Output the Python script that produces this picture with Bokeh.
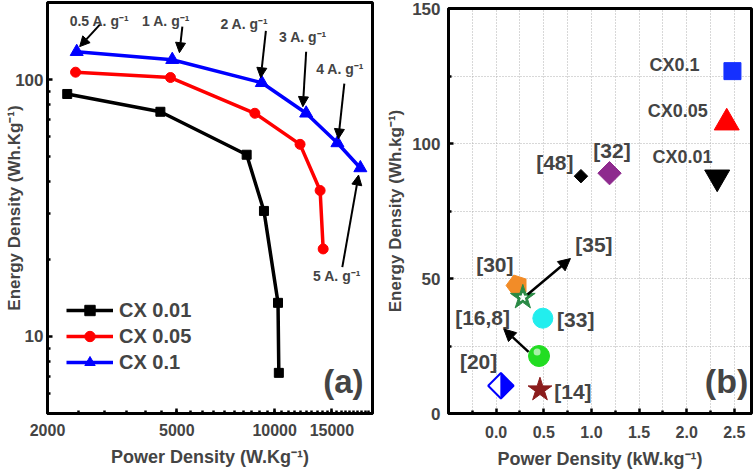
import math
from bokeh.plotting import figure
from bokeh.layouts import row
from bokeh.models import (FixedTicker, Label, Arrow, NormalHead, Legend, LegendItem,
                          Range1d, NumeralTickFormatter)
from bokeh.embed import file_html
from bokeh.resources import INLINE

FONT = "Liberation Sans"

# ---------------- Panel (a) data ----------------
cx001_power = [2300, 4450, 8200, 9270, 10240, 10300]
cx001_energy = [88, 75, 51, 30.8, 13.5, 7.2]
cx005_power = [2440, 4780, 8690, 11970, 13800, 14100]
cx005_energy = [107, 102, 74, 56, 37, 21.9]
cx01_power = [2460, 4840, 9130, 12500, 15600, 18350]
cx01_energy = [128.6, 119.7, 97.3, 74, 56.7, 45.3]
series_names = ["CX 0.01", "CX 0.05", "CX 0.1"]

current_labels = ["0.5 A. g⁻¹", "1 A. g⁻¹", "2 A. g⁻¹", "3 A. g⁻¹", "4 A. g⁻¹", "5 A. g⁻¹"]
current_label_x = [2340, 3909, 6810, 10310, 13420, 13130]
current_label_y = [170, 170, 165.5, 147, 110.4, 17.1]
arrow_start_x = [2898, 5200, 9397, 12500, 16380, 16150]
arrow_start_y = [164, 161, 155, 128.6, 96.5, 18.6]
arrow_end_x = [2512, 5093, 9060, 12210, 15700, 18120]
arrow_end_y = [134.6, 127.5, 101.8, 78.5, 58.8, 42.5]

x_major_a = [2000, 5000, 10000, 15000]
x_minor_a = list(range(2500, 20001, 500))
y_major_a = [10, 100]
y_minor_a = [5, 6, 7, 8, 9, 20, 30, 40, 50, 60, 70, 80, 90, 200]

# ---------------- Panel (b) data ----------------
ref_names = ["CX0.1", "CX0.05", "CX0.01", "[48]", "[32]", "[30]", "[35]", "[33]", "[16,8]", "[20]", "[14]"]
ref_power = [2.48, 2.42, 2.32, 0.89, 1.19, 0.22, 0.28, 0.49, 0.45, 0.05, 0.46]
ref_energy = [126.8, 107.7, 87.5, 87.9, 89.0, 47.4, 43.0, 35.3, 21.3, 10.3, 8.8]
ref_label_x = [1.61, 1.59, 1.64, 0.42, 1.02, -0.21, 0.83, 0.64, -0.43, -0.38, 0.61]
ref_label_y = [129, 112.1, 94.9, 93.0, 97.4, 55.1, 62.5, 34.9, 35.7, 19.1, 8.1]
x_major_b = [0.0, 0.5, 1.0, 1.5, 2.0, 2.5]
x_minor_b = [-0.25, 0.25, 0.75, 1.25, 1.75, 2.25]
y_major_b = [0, 50, 100, 150]
y_minor_b = [25, 75, 125]


def frame_style(p):
    p.outline_line_color = "black"
    p.outline_line_width = 3
    p.background_fill_color = "white"
    p.border_fill_color = "white"
    for ax in (p.xaxis[0], p.yaxis[0]):
        ax.axis_line_width = 3
        ax.axis_line_color = "black"
        ax.major_tick_in = 5
        ax.major_tick_out = 0
        ax.minor_tick_in = 3
        ax.minor_tick_out = 0
        ax.major_tick_line_width = 2.5
        ax.minor_tick_line_width = 2.5
        ax.major_label_text_font = FONT
        ax.major_label_text_font_style = "bold"
        ax.axis_label_text_font = FONT
        ax.axis_label_text_font_style = "bold"
        ax.axis_label_text_font_size = "18px"


# ================= Panel (a) =================
pa = figure(width=380, height=479, x_axis_type="log", y_axis_type="log",
            x_range=Range1d(2000, 20000), y_range=Range1d(5, 200),
            output_backend="svg", toolbar_location=None, title_location=None,
            min_border=0, min_border_left=47, min_border_right=8, min_border_top=0,
            min_border_bottom=60, margin=(-6, 0, 0, 0))
pa.xgrid.visible = False
pa.ygrid.visible = False
frame_style(pa)
pa.xaxis.ticker = FixedTicker(ticks=x_major_a, minor_ticks=x_minor_a)
pa.yaxis.ticker = FixedTicker(ticks=y_major_a, minor_ticks=y_minor_a)
pa.xaxis.formatter = NumeralTickFormatter(format="0")
pa.yaxis.formatter = NumeralTickFormatter(format="0")
pa.xaxis.major_label_text_font_size = "16px"
pa.yaxis.major_label_text_font_size = "17px"
pa.xaxis.major_label_standoff = 10
pa.yaxis.major_label_standoff = 4
pa.xaxis.axis_label = "Power Density (W.Kg⁻¹)"
pa.xaxis.axis_label_standoff = 8
pa.yaxis.axis_label = "Energy Density (Wh.Kg⁻¹)"
pa.yaxis.axis_label_text_font_size = "17px"
pa.yaxis.axis_label_standoff = -12

items = []
for xs, ys, color, marker, size, name in [
        (cx001_power, cx001_energy, "black", "square", 9, series_names[0]),
        (cx005_power, cx005_energy, "#ff0000", "circle", 10, series_names[1]),
        (cx01_power, cx01_energy, "#0000ff", "triangle", 13, series_names[2])]:
    ln = pa.line(xs, ys, line_color=color, line_width=3.5)
    sc = pa.scatter(xs, ys, marker=marker, size=size, fill_color=color, line_color=color)
    items.append(LegendItem(label=name, renderers=[ln, sc]))

legend = Legend(items=items, location=(19, 38), border_line_color=None,
                background_fill_alpha=0, padding=0, margin=0, spacing=0,
                glyph_width=47, glyph_height=26, label_height=26, label_standoff=6,
                label_text_font=FONT, label_text_font_style="bold",
                label_text_font_size="20px")
pa.add_layout(legend, "center")

for lx, ly, txt in zip(current_label_x, current_label_y, current_labels):
    pa.add_layout(Label(x=lx, y=ly, text=txt, text_font=FONT, text_font_style="bold",
                        text_font_size="14px", text_baseline="middle", text_align="left"))
for x0, y0, x1, y1 in zip(arrow_start_x, arrow_start_y, arrow_end_x, arrow_end_y):
    pa.add_layout(Arrow(x_start=x0, y_start=y0, x_end=x1, y_end=y1, line_width=2,
                        end=NormalHead(size=10, fill_color="black", line_color="black")))

pa.add_layout(Label(x=14100, y=6.67, text="(a)", text_font=FONT, text_font_style="bold",
                    text_font_size="33px", text_baseline="middle", text_align="left"))

# ================= Panel (b) =================
pb = figure(width=376, height=473, x_range=Range1d(-0.5, 2.68), y_range=Range1d(0, 150),
            output_backend="svg", toolbar_location=None, title_location=None,
            min_border=0, min_border_left=68, min_border_right=5, min_border_top=8,
            min_border_bottom=55)
frame_style(pb)
pb.xaxis.ticker = FixedTicker(ticks=x_major_b, minor_ticks=x_minor_b)
pb.yaxis.ticker = FixedTicker(ticks=y_major_b, minor_ticks=y_minor_b)
pb.xaxis.formatter = NumeralTickFormatter(format="0.0")
pb.yaxis.formatter = NumeralTickFormatter(format="0")
pb.xaxis.major_label_text_font_size = "16px"
pb.yaxis.major_label_text_font_size = "17px"
pb.xaxis.major_label_standoff = 12
pb.yaxis.major_label_standoff = 8
pb.xaxis.axis_label = "Power Density (kW.kg⁻¹)"
pb.yaxis.axis_label = "Energy Density (Wh.kg⁻¹)"
pb.yaxis.axis_label_text_font_size = "17px"
pb.xaxis.axis_label_standoff = 8
pb.yaxis.axis_label_standoff = 4
for g in (pb.xgrid[0], pb.ygrid[0]):
    g.grid_line_color = "#b0b0b0"
    g.grid_line_dash = "1 2"
    g.grid_line_width = 1
    g.minor_grid_line_color = "#b0b0b0"
    g.minor_grid_line_dash = "1 2"
    g.minor_grid_line_width = 1

P, E = ref_power, ref_energy
# CX0.1 square
pb.scatter([P[0]], [E[0]], marker="square", size=17, fill_color="#1530ff", line_color="#1530ff")
# CX0.05 triangle
pb.scatter([P[1]], [E[1]], marker="triangle", size=25, fill_color="#ff0000", line_color="#ff0000")
# CX0.01 inverted triangle
pb.scatter([P[2]], [E[2]], marker="inverted_triangle", size=25, fill_color="black", line_color="black")
# [48] small diamond
pb.scatter([P[3]], [E[3]], marker="square", angle=math.pi / 4, size=9.5, fill_color="black", line_color="black")
# [32] purple diamond
pb.scatter([P[4]], [E[4]], marker="square", angle=math.pi / 4, size=16.5, fill_color="#8e2a8e", line_color="#8e2a8e")
# [30] orange pentagon
pb.ngon(x=[P[5]], y=[E[5]], radius=11, radius_units="screen", n=5, angle=math.pi / 2,
        fill_color="#f28c28", line_color="#f28c28")
# [35] green star with white center
pb.scatter([P[6]], [E[6]], marker="star", size=26, fill_color="#2a8a45", line_color="#2a8a45")
pb.scatter([P[6]], [E[6]], marker="star", size=8, fill_color="white", line_color="white")
# [33] cyan circle
pb.scatter([P[7]], [E[7]], marker="circle", size=20, fill_color="#22eeee", line_color="#22eeee")
# [16,8] green sphere
pb.scatter([P[8]], [E[8]], marker="circle", size=21, fill_color="#22dd22", line_color="#22dd22")
pb.scatter([P[8] - 0.02], [E[8] + 1.5], marker="circle", size=7, fill_color="white",
           line_color=None, fill_alpha=0.6)
# [20] half-filled diamond
pb.scatter([P[9]], [E[9]], marker="square", angle=math.pi / 4, size=18, fill_color="white",
           line_color="#0000ff", line_width=2)
hw, hh = 0.133, 4.67
pb.patch([P[9], P[9] + hw, P[9]], [E[9] + hh, E[9], E[9] - hh], fill_color="#0000ff",
         line_color="#0000ff")
# [14] dark red star
pb.scatter([P[10]], [E[10]], marker="star", size=25, fill_color="#8b1c1c", line_color="#8b1c1c")

for i, name in enumerate(ref_names):
    size = "18px" if i < 3 else "21px"
    pb.add_layout(Label(x=ref_label_x[i], y=ref_label_y[i], text=name, text_font=FONT,
                        text_font_style="bold", text_font_size=size,
                        text_baseline="middle", text_align="left"))

for x0, y0, x1, y1 in [(0.33, 44.1, 0.78, 57.4), (0.34, 22.8, 0.08, 31.3)]:
    pb.add_layout(Arrow(x_start=x0, y_start=y0, x_end=x1, y_end=y1, line_width=2.5,
                        end=NormalHead(size=12, fill_color="black", line_color="black")))

pb.add_layout(Label(x=2.19, y=12.1, text="(b)", text_font=FONT, text_font_style="bold",
                    text_font_size="34px", text_baseline="middle", text_align="left"))

layout = row(pa, pb)
open("out.html", "w").write(file_html(layout, INLINE))
